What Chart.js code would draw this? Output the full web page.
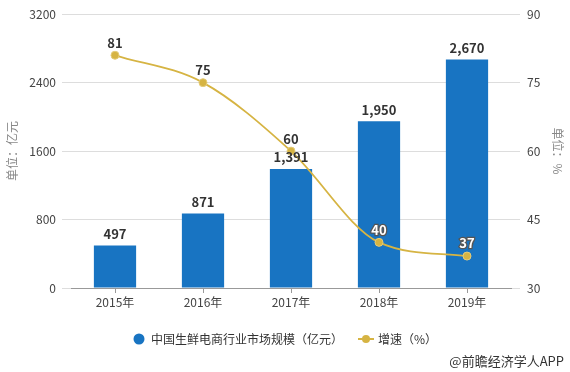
<!DOCTYPE html>
<html>
<head>
<meta charset="utf-8">
<script src="https://cdn.jsdelivr.net/npm/chart.js@4.4.0/dist/chart.umd.min.js"></script>
<style>
  html, body { margin: 0; padding: 0; background: #fff; }
  #wrap { width: 570px; height: 372px; position: relative; }
</style>
</head>
<body>
<div id="wrap"><canvas id="chartBar"></canvas></div>
<script>
const years = ["2015年", "2016年", "2017年", "2018年", "2019年"];
const marketSize = [497, 871, 1391, 1950, 2670];
const growthRate = [81, 75, 60, 40, 37];
const leftTicks = [0, 800, 1600, 2400, 3200];
const rightTicks = [30, 45, 60, 75, 90];

const blue = "#1874c2";
const gold = "#d6b443";
const fontFamily = "'Noto Sans CJK SC', 'Microsoft YaHei', sans-serif";

// legend markers drawn on small canvases
function makeMarker(withLine, color) {
    const c = document.createElement("canvas");
    c.width = 18;
    c.height = 12;
    const g = c.getContext("2d");
    if (withLine) {
        g.strokeStyle = color;
        g.lineWidth = 2;
        g.beginPath();
        g.moveTo(1, 6);
        g.lineTo(17, 6);
        g.stroke();
    }
    g.fillStyle = color;
    g.beginPath();
    g.arc(9, 6, withLine ? 4 : 5.5, 0, Math.PI * 2);
    g.fill();
    return c;
}
const barMarker = makeMarker(false, blue);
const lineMarker = makeMarker(true, gold);

const valueLabels = {
    id: "valueLabels",
    afterDatasetsDraw(chart) {
        const ctx = chart.ctx;
        ctx.save();
        ctx.font = "bold 13px " + fontFamily;
        ctx.textAlign = "center";
        ctx.textBaseline = "bottom";
        const bars = chart.getDatasetMeta(0).data;
        bars.forEach((bar, i) => {
            ctx.fillStyle = "#333";
            ctx.fillText(marketSize[i].toLocaleString("en-US"), bar.x, bar.y - 5);
        });
        chart.getDatasetMeta(1).data.forEach((pt, i) => {
            const txt = String(growthRate[i]);
            if (pt.y > bars[i].y) {
                ctx.lineWidth = 2.5;
                ctx.strokeStyle = "#555";
                ctx.strokeText(txt, pt.x, pt.y - 6);
                ctx.fillStyle = "#fff";
            } else {
                ctx.fillStyle = "#333";
            }
            ctx.fillText(txt, pt.x, pt.y - 6);
        });
        ctx.restore();
    },
    afterDraw(chart) {
        const ctx = chart.ctx;
        ctx.save();
        ctx.font = "13px " + fontFamily;
        ctx.fillStyle = "#333";
        ctx.textAlign = "right";
        ctx.textBaseline = "middle";
        ctx.fillText("@前瞻经济学人APP", 564, 361);
        ctx.restore();
    }
};

const data = {
    labels: years,
    datasets: [
        {
            type: "bar",
            label: "中国生鲜电商行业市场规模（亿元）",
            data: marketSize,
            backgroundColor: blue,
            barPercentage: 0.48,
            categoryPercentage: 1,
            yAxisID: "y",
            order: 2
        },
        {
            type: "line",
            label: "增速（%）",
            data: growthRate,
            borderColor: gold,
            backgroundColor: gold,
            borderWidth: 1.8,
            pointRadius: 4,
            pointHoverRadius: 4,
            pointBackgroundColor: gold,
            pointBorderColor: "#e4cc7a",
            pointBorderWidth: 1,
            cubicInterpolationMode: "monotone",
            yAxisID: "y1",
            order: 1
        }
    ]
};

const config = {
    data,
    plugins: [valueLabels],
    options: {
        responsive: true,
        maintainAspectRatio: false,
        animation: false,
        layout: { padding: { top: 8, bottom: 17 } },
        plugins: {
            tooltip: { enabled: false },
            legend: {
                position: "bottom",
                labels: {
                    usePointStyle: true,
                    padding: 17,
                    color: "#333",
                    font: { size: 12, family: fontFamily },
                    generateLabels(chart) {
                        const items = Chart.defaults.plugins.legend.labels.generateLabels(chart);
                        items.sort((a, b) => a.datasetIndex - b.datasetIndex);
                        items.forEach(it => {
                            it.pointStyle = it.datasetIndex === 0 ? barMarker : lineMarker;
                        });
                        return items;
                    }
                }
            }
        },
        scales: {
            x: {
                offset: true,
                grid: { offset: false, drawOnChartArea: false, tickLength: 5, color: "#999" },
                border: { color: "#999" },
                ticks: { color: "#444", font: { size: 12, family: fontFamily }, padding: 2 },
                afterFit(scale) { scale.height = 28; }
            },
            y: {
                position: "left",
                min: 0,
                max: 3200,
                afterBuildTicks(scale) { scale.ticks = leftTicks.map(v => ({ value: v })); },
                grid: { color: "#ddd", tickLength: 9 },
                border: { display: false },
                ticks: {
                    color: "#444",
                    padding: 6,
                    font: { size: 12, family: fontFamily },
                    callback: v => String(v)
                },
                title: { display: true, text: "单位：亿元", color: "#888", font: { size: 12, family: fontFamily }, padding: { top: 5, bottom: 0 } },
                afterFit(scale) { scale.width = 71; }
            },
            y1: {
                position: "right",
                min: 30,
                max: 90,
                afterBuildTicks(scale) { scale.ticks = rightTicks.map(v => ({ value: v })); },
                grid: { drawOnChartArea: false, color: "#ddd", tickLength: 9 },
                border: { display: false },
                ticks: {
                    color: "#444",
                    padding: 7,
                    font: { size: 12, family: fontFamily },
                    callback: v => String(v)
                },
                title: { display: true, text: "单位：%", color: "#888", font: { size: 12, family: fontFamily }, padding: { top: 5, bottom: 0 } },
                afterFit(scale) { scale.width = 59; }
            }
        }
    }
};

const myChart = new Chart(document.getElementById("chartBar"), config);
</script>
</body>
</html>
